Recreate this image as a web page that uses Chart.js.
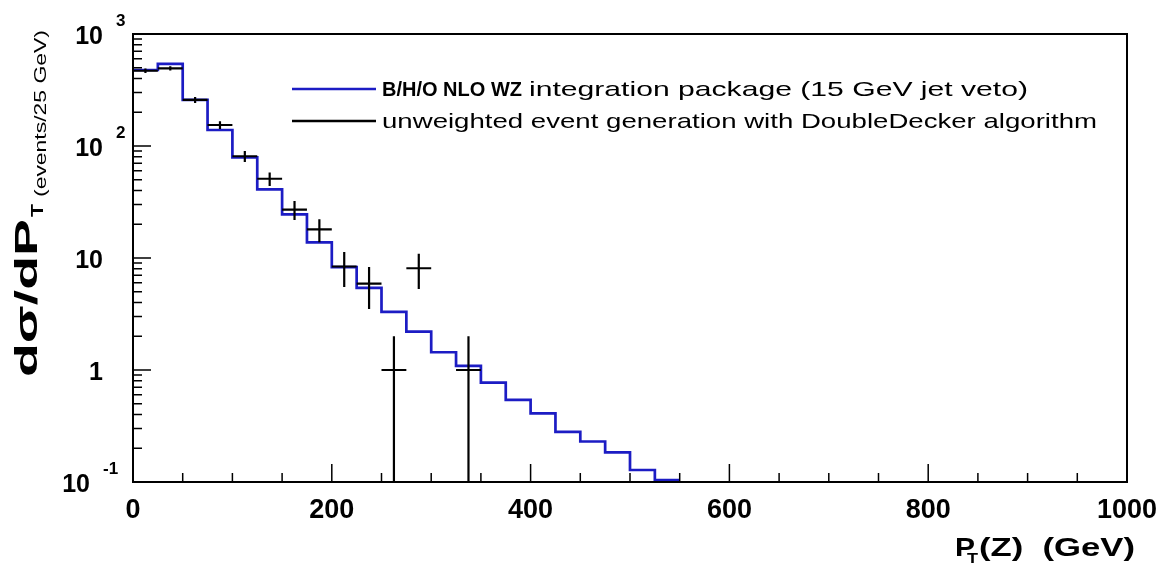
<!DOCTYPE html>
<html>
<head>
<meta charset="utf-8">
<script src="https://cdn.jsdelivr.net/npm/chart.js@4.4.1/dist/chart.umd.min.js"></script>
<style>
  html, body { margin: 0; padding: 0; background: #fff; }
  #wrap { width: 1171px; height: 566px; }
</style>
</head>
<body>
<div id="wrap"><canvas id="chartPtZ" width="1171" height="566"></canvas></div>
<script>
// pT(Z) spectrum: NLO histogram (blue) vs unweighted events (black crosses)
const nloBinStart = [0, 25, 50, 75, 100, 125, 150, 175, 200, 225, 250, 275, 300, 325, 350, 375, 400, 425, 450, 475, 500, 525];
const nloValues = [477, 540, 258, 139, 79, 41, 24.5, 13.8, 8.3, 5.4, 3.3, 2.2, 1.44, 1.09, 0.77, 0.54, 0.41, 0.28, 0.23, 0.184, 0.128, 0.104];
const nloLastEdge = 550;

const ddCenters = [12.5, 37.5, 62.5, 87.5, 112.5, 137.5, 162.5, 187.5, 212.5, 237.5, 262.5, 287.5, 337.5];
const ddValues = [470, 494, 258, 154, 81, 51, 27, 18, 8.4, 5.9, 1, 8.1, 1];
const ddErrors = [22, 22, 16, 12, 9, 7, 5.2, 4.2, 2.9, 2.4, 1, 2.8, 1];
const ddHalfBin = 12.5;

const xTicks = [0, 200, 400, 600, 800, 1000];
const xMinorStep = 50;
const yTickValues = [0.1, 1, 10, 100, 1000];
const yTickBase = ['10', '1', '10', '10', '10'];
const yTickExp = ['-1', '', '', '2', '3'];

const legendBold = ['B/H/O NLO WZ', ''];
const legendText = ['integration package (15 GeV jet veto)', 'unweighted event generation with DoubleDecker algorithm'];

const FONT = "'Liberation Sans', Arial, Helvetica, sans-serif";
const BLUE = '#1c1cc4';

const nloPoints = nloBinStart.map((x, i) => ({ x, y: nloValues[i] }));
nloPoints.push({ x: nloLastEdge, y: nloValues[nloValues.length - 1] });

// draw text stretched along its baseline so it ends at a given width
function fitText(ctx, text, x, y, width) {
  const w = ctx.measureText(text).width;
  ctx.save();
  ctx.translate(x, y);
  ctx.scale(width / w, 1);
  ctx.fillText(text, 0, 0);
  ctx.restore();
}

const framePlugin = {
  id: 'rootFrame',
  afterDatasetsDraw(chart) {
    const { ctx, chartArea: a, scales } = chart;
    const xs = scales.x, ys = scales.y;

    ctx.save();
    ctx.strokeStyle = '#000';
    ctx.lineWidth = 2.2;
    ddCenters.forEach((c, i) => {
      const px = xs.getPixelForValue(c);
      const py = ys.getPixelForValue(ddValues[i]);
      const x0 = xs.getPixelForValue(c - ddHalfBin);
      const x1 = xs.getPixelForValue(c + ddHalfBin);
      const lo = ddValues[i] - ddErrors[i];
      const yLo = lo > 0 ? Math.min(ys.getPixelForValue(lo), a.bottom) : a.bottom;
      const yHi = ys.getPixelForValue(ddValues[i] + ddErrors[i]);
      ctx.beginPath();
      ctx.moveTo(x0, py); ctx.lineTo(x1, py);
      ctx.moveTo(px, yHi); ctx.lineTo(px, yLo);
      ctx.stroke();
    });
    ctx.restore();
  },
  afterDraw(chart) {
    const { ctx, chartArea: a, scales } = chart;
    const xs = scales.x, ys = scales.y;
    ctx.save();
    ctx.strokeStyle = '#000';
    ctx.lineWidth = 2;
    ctx.strokeRect(a.left, a.top, a.right - a.left, a.bottom - a.top);

    // ticks drawn inwards, ROOT style
    ctx.lineWidth = 1.5;
    ctx.beginPath();
    for (let v = 0; v <= 1000; v += xMinorStep) {
      const px = xs.getPixelForValue(v);
      const len = xTicks.includes(v) ? 18 : 9;
      ctx.moveTo(px, a.bottom); ctx.lineTo(px, a.bottom - len);
    }
    for (let d = -1; d <= 2; d++) {
      for (let m = 1; m <= 9; m++) {
        const py = ys.getPixelForValue(m * Math.pow(10, d));
        const len = m === 1 ? 18 : 9;
        ctx.moveTo(a.left, py); ctx.lineTo(a.left + len, py);
      }
    }
    const pTop = ys.getPixelForValue(1000);
    ctx.moveTo(a.left, pTop); ctx.lineTo(a.left + 18, pTop);
    ctx.stroke();

    // y tick labels with superscripts
    ctx.fillStyle = '#000';
    ctx.textBaseline = 'middle';
    yTickValues.forEach((v, i) => {
      const py = ys.getPixelForValue(v);
      const exp = yTickExp[i];
      const baseRight = exp.length > 1 ? 90 : 103;
      ctx.font = 'bold 25px ' + FONT;
      ctx.textAlign = 'right';
      ctx.fillText(yTickBase[i], baseRight, py + 3);
      if (exp) {
        ctx.font = 'bold 17px ' + FONT;
        ctx.textAlign = 'left';
        ctx.fillText(exp, baseRight + 13, py - 13);
      }
    });

    // x axis title
    ctx.textBaseline = 'alphabetic';
    ctx.textAlign = 'left';
    ctx.font = 'bold 26px ' + FONT;
    fitText(ctx, 'P', 955, 556, 20);
    ctx.font = 'bold 15px ' + FONT;
    fitText(ctx, 'T', 967, 563, 11);
    ctx.font = 'bold 26px ' + FONT;
    fitText(ctx, '(Z)  (GeV)', 979, 556, 156);

    // y axis title (rotated, reads bottom to top)
    ctx.save();
    ctx.translate(37, 377);
    ctx.rotate(-Math.PI / 2);
    ctx.font = 'bold 31px ' + FONT;
    fitText(ctx, 'd\u03c3/dP', 0, 0, 158);
    ctx.font = 'bold 16px ' + FONT;
    fitText(ctx, 'T', 160, 6, 13);
    ctx.font = '17px ' + FONT;
    fitText(ctx, '(events/25 GeV)', 180, 9, 167);
    ctx.restore();

    // legend
    const sets = chart.data.datasets;
    const rows = [89, 121];
    const rowEnd = [1028, 1097];
    rows.forEach((ry, i) => {
      ctx.strokeStyle = sets[i].borderColor;
      ctx.lineWidth = 2.5;
      ctx.beginPath();
      ctx.moveTo(292, ry); ctx.lineTo(376, ry);
      ctx.stroke();
      ctx.fillStyle = '#000';
      ctx.textBaseline = 'middle';
      let lx = 382;
      if (legendBold[i]) {
        ctx.font = 'bold 20px ' + FONT;
        ctx.fillText(legendBold[i], lx, ry + 1);
        lx += ctx.measureText(legendBold[i]).width + 7;
      }
      ctx.font = '21px ' + FONT;
      fitText(ctx, legendText[i], lx, ry + 1, rowEnd[i] - lx);
    });
    ctx.restore();
  },
};

new Chart(document.getElementById('chartPtZ'), {
  type: 'line',
  data: {
    datasets: [
      {
        label: legendBold[0] + ' ' + legendText[0],
        data: nloPoints,
        borderColor: BLUE,
        borderWidth: 2.7,
        stepped: true,
        pointRadius: 0,
        fill: false,
      },
      {
        label: legendText[1],
        type: 'scatter',
        data: ddCenters.map((c, i) => ({ x: c, y: ddValues[i] })),
        borderColor: '#000',
        pointRadius: 0,
        showLine: false,
      },
    ],
  },
  options: {
    responsive: false,
    animation: false,
    layout: { padding: { left: 0, right: 44, top: 34, bottom: 0 } },
    plugins: { legend: { display: false }, tooltip: { enabled: false } },
    scales: {
      x: {
        type: 'linear',
        min: 0,
        max: 1000,
        grid: { display: false, drawTicks: false },
        border: { display: false },
        afterBuildTicks: (s) => { s.ticks = xTicks.map((v) => ({ value: v })); },
        afterFit: (s) => { s.height = 84; },
        ticks: {
          color: '#000',
          padding: 12,
          maxRotation: 0,
          font: { family: FONT, size: 27, weight: 'bold' },
          callback: (v) => String(v),
        },
      },
      y: {
        type: 'logarithmic',
        min: 0.1,
        max: 1000,
        grid: { display: false, drawTicks: false },
        border: { display: false },
        ticks: { display: false },
        afterFit: (s) => { s.width = 133; },
      },
    },
  },
  plugins: [framePlugin],
});
</script>
</body>
</html>
